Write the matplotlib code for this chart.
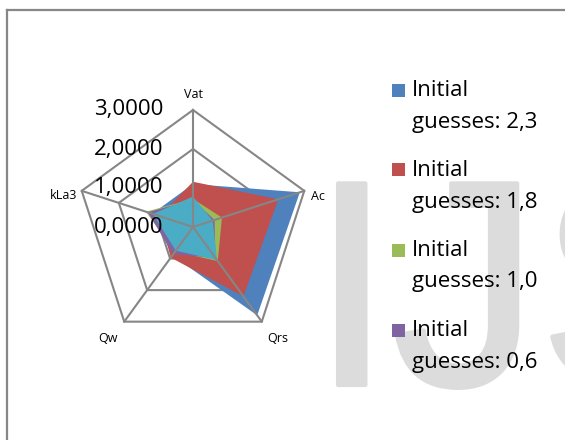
import numpy as np
import matplotlib.pyplot as plt
import matplotlib.patheffects as pe
from matplotlib.lines import Line2D
from matplotlib.patches import Rectangle
from matplotlib.transforms import offset_copy

# data (axis order: Vat, Ac, Qrs, Qw, kLa3)
categories = ['Vat', 'Ac', 'Qrs', 'Qw', 'kLa3']
guess_2_3 = [1.10, 2.88, 2.80, 0.90, 1.10]
guess_1_8 = [1.16, 2.30, 2.20, 0.97, 0.90]
guess_1_0 = [0.72, 0.78, 1.08, 0.78, 1.27]
guess_0_6 = [0.70, 0.58, 0.98, 0.86, 1.22]
guess_extra = [0.78, 0.53, 1.05, 0.75, 1.08]
series_labels = ['Initial guesses: 2,3', 'Initial guesses: 1,8',
                 'Initial guesses: 1,0', 'Initial guesses: 0,6']
ring_values = [0, 1, 2, 3]
ring_labels = ['0,0000', '1,0000', '2,0000', '3,0000']

colors = ['#4F81BD', '#C0504D', '#9BBB59', '#8064A2', '#4BACC6']
grid_col = '#868686'
font = 'Open Sans'

fig = plt.figure(figsize=(5.65, 4.4), dpi=100)

# watermark behind everything
fig.text(311 / 565, 55 / 440, 'IJS', fontsize=211, family='Liberation Sans',
         color='#dcdcdc', ha='left', va='baseline', zorder=0,
         path_effects=[pe.withStroke(linewidth=3, foreground='#dcdcdc')])

ax = fig.add_axes([76 / 565, 96 / 440, 234 / 565, 234 / 440], projection='polar')
ax.set_theta_offset(np.pi / 2)
ax.set_theta_direction(-1)
ax.set_ylim(0, 3)
ax.grid(False)
ax.spines['polar'].set_visible(False)
ax.set_xticks([])
ax.set_yticks([])
ax.patch.set_alpha(0)

theta = np.linspace(0, 2 * np.pi, len(categories), endpoint=False)
closed = np.append(theta, theta[0])

# pentagon rings under the fills
for r in ring_values[1:]:
    ax.plot(closed, [r] * len(closed), color=grid_col, lw=1.5, zorder=1, clip_on=False)

all_series = [guess_2_3, guess_1_8, guess_1_0, guess_0_6, guess_extra]
for i, vals in enumerate(all_series):
    v = np.append(vals, vals[0])
    ax.fill(closed, v, color=colors[i], lw=0, zorder=2 + i)

# spokes over the fills
for t in theta:
    ax.plot([t, t], [0, 3], color=grid_col, lw=1.5, zorder=10, clip_on=False)

# value labels along the Vat axis
lab_tr = offset_copy(ax.transData, fig=fig, x=-30, y=0, units='dots')
for r, lab in zip(ring_values, ring_labels):
    ax.text(0, r, lab, transform=lab_tr, ha='right', va='center',
            fontsize=16, family=font, color='black', zorder=12)

# category labels
cat_off = [(0, 16, 'center', 'center'), (7, -6, 'left', 'center'),
           (16, -17, 'center', 'center'), (-16, -17, 'center', 'center'),
           (-4, -5, 'right', 'center')]
for t, name, (dx, dy, ha, va) in zip(theta, categories, cat_off):
    tr = offset_copy(ax.transData, fig=fig, x=dx, y=dy, units='dots')
    ax.text(t, 3, name, transform=tr, ha=ha, va=va, fontsize=9,
            family=font, color='black', zorder=12)

# legend drawn by hand: square marker + two-line label
for i, lab in enumerate(series_labels):
    yc = 90 + 80 * i
    fig.patches.append(Rectangle((392 / 565, 1 - (yc + 6.5) / 440), 13 / 565, 13 / 440,
                                 transform=fig.transFigure, color=colors[i], lw=0))
    first, second = lab.split(' ', 1)
    fig.text(412 / 565, 1 - yc / 440, first, ha='left', va='center',
             fontsize=16, family=font)
    fig.text(412 / 565, 1 - (yc + 32) / 440, second, ha='left', va='center',
             fontsize=16, family=font)

# chart border (top and left visible)
fig.add_artist(Line2D([7 / 565, 7 / 565], [0, 1 - 10 / 440], color='#878787', lw=1.6,
                      transform=fig.transFigure))
fig.add_artist(Line2D([7 / 565, 1], [1 - 10 / 440, 1 - 10 / 440], color='#878787', lw=1.6,
                      transform=fig.transFigure))

fig.savefig('out.png', dpi=100)
